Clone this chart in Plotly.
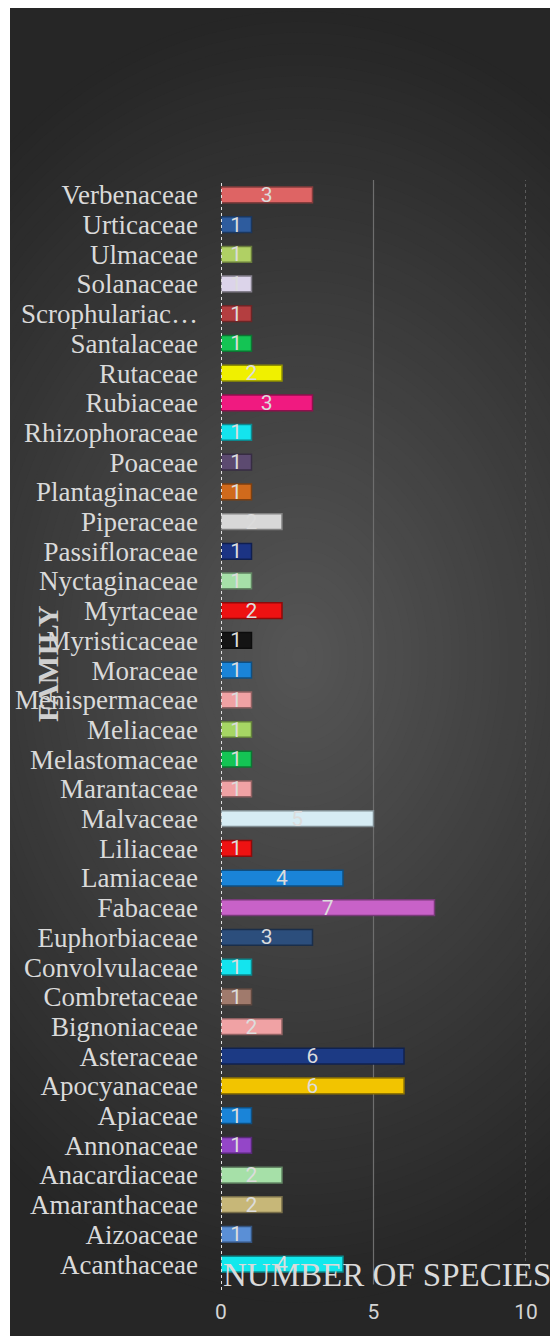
import plotly.graph_objects as go
import math

families = ["Acanthaceae", "Aizoaceae", "Amaranthaceae", "Anacardiaceae", "Annonaceae",
            "Apiaceae", "Apocyanaceae", "Asteraceae", "Bignoniaceae", "Combretaceae",
            "Convolvulaceae", "Euphorbiaceae", "Fabaceae", "Lamiaceae", "Liliaceae",
            "Malvaceae", "Marantaceae", "Melastomaceae", "Meliaceae", "Menispermaceae",
            "Moraceae", "Myristicaceae", "Myrtaceae", "Nyctaginaceae", "Passifloraceae",
            "Piperaceae", "Plantaginaceae", "Poaceae", "Rhizophoraceae", "Rubiaceae",
            "Rutaceae", "Santalaceae", "Scrophulariaceae", "Solanaceae", "Ulmaceae",
            "Urticaceae", "Verbenaceae"]
species = [4, 1, 2, 2, 1, 1, 6, 6, 2, 1, 1, 3, 7, 4, 1, 5, 1, 1, 1, 1, 1, 1, 2, 1, 1,
           2, 1, 1, 1, 3, 2, 1, 1, 1, 1, 1, 3]
tick_labels = [f if f != "Scrophulariaceae" else "Scrophulariac…" for f in families]
bar_colors = ["#12e8ec", "#5a8fd6", "#c7b778", "#a6e0a8", "#9446c8",
              "#1a84d8", "#f2c400", "#1c3a84", "#f0a2a4", "#a07a6c",
              "#14e4ee", "#2c4e7c", "#c862c8", "#1a84d8", "#ee1212",
              "#d6ecf4", "#f0a2a4", "#14c454", "#a6d664", "#f0a2a4",
              "#1a84d8", "#141414", "#ee1212", "#a6e0a8", "#1c3484",
              "#d8d8d8", "#d06a1c", "#5c4a70", "#14e4ee", "#f01a80",
              "#f0f000", "#14c454", "#b43e40", "#dcd4ea", "#b0d064",
              "#2e5c9e", "#de6464"]
x_ticks = [0, 5, 10]


def darker(hexc, f=0.6):
    r, g, b = int(hexc[1:3], 16), int(hexc[3:5], 16), int(hexc[5:7], 16)
    return "rgb(%d,%d,%d)" % (r * f, g * f, b * f)


fig = go.Figure()
fig.add_trace(go.Bar(
    y=families, x=species, orientation="h",
    marker=dict(color=bar_colors, line=dict(color=[darker(c) for c in bar_colors], width=1.5)),
    width=0.53,
    text=species, textposition="inside", insidetextanchor="middle", textangle=0,
    constraintext="none",
    textfont=dict(family="Roboto", size=21, color="#dcdcdc"),
    hoverinfo="skip",
))

# pixel -> paper conversion for the decorative background
L, R, T, B = 221, 24, 180, 50
PW, PH = 550 - L - R, 1336 - T - B


def px(x):
    return (x - L) / PW


def py(y):
    return (1336 - B - y) / PH


shapes = []
shapes.append(dict(type="rect", xref="paper", yref="paper",
                   x0=px(10), x1=px(600), y0=py(1400), y1=py(7),
                   fillcolor="rgb(38,38,38)", line=dict(width=0), layer="below"))
cx, cy, rx, ry = 300, 660, 480, 650
n = 60
for k in range(n, 0, -1):
    s = k / n
    v = int(round(38 + 48 * (1 - s)))
    shapes.append(dict(type="circle", xref="paper", yref="paper",
                       x0=px(cx - rx * s), x1=px(cx + rx * s),
                       y0=py(cy + ry * s), y1=py(cy - ry * s),
                       fillcolor="rgb(%d,%d,%d)" % (v, v, v), line=dict(width=0),
                       layer="below"))
# mask outside the chart box (white page margin)
shapes.append(dict(type="rect", xref="paper", yref="paper",
                   x0=px(-50), x1=px(10), y0=py(1400), y1=py(-50),
                   fillcolor="white", line=dict(width=0), layer="below"))
shapes.append(dict(type="rect", xref="paper", yref="paper",
                   x0=px(-50), x1=px(600), y0=py(7), y1=py(-50),
                   fillcolor="white", line=dict(width=0), layer="below"))
# gridlines
for xv in x_ticks:
    if xv == 0:
        shapes.append(dict(type="line", xref="x", yref="paper", x0=xv, x1=xv, y0=-0.01, y1=1,
                           line=dict(color="#e0e0e0", width=2, dash="dot"), layer="above"))
    elif xv == 10:
        shapes.append(dict(type="line", xref="x", yref="paper", x0=xv, x1=xv, y0=0, y1=1,
                           line=dict(color="#8a8a8a", width=1, dash="dot"), layer="below"))
    else:
        shapes.append(dict(type="line", xref="x", yref="paper", x0=xv, x1=xv, y0=-0.005, y1=1,
                           line=dict(color="#6e6e6e", width=1.2), layer="below"))

fig.update_layout(
    width=550, height=1336,
    margin=dict(l=L, r=R, t=T, b=B),
    paper_bgcolor="white", plot_bgcolor="rgba(0,0,0,0)",
    showlegend=False,
    bargap=0.47,
    shapes=shapes,
    xaxis=dict(range=[0, 10], tickvals=x_ticks, showgrid=False, zeroline=False,
               showline=False, ticks="", ticklabelstandoff=18,
               tickfont=dict(family="Roboto", size=21, color="#d4d4d4")),
    yaxis=dict(type="category", tickvals=families, ticktext=tick_labels,
               showgrid=False, zeroline=False, showline=False, ticks="",
               ticklabelstandoff=22,
               tickfont=dict(family="Liberation Serif", size=27, color="#dadada"),
               range=[-0.5, len(families) - 0.5]),
    annotations=[
        dict(text="NUMBER OF SPECIES", xref="paper", yref="paper", x=px(387), y=py(1282),
             xanchor="center", yanchor="middle", showarrow=False,
             font=dict(family="Liberation Serif", size=33, color="#dadada")),
        dict(text="<b>FAMILY</b>", xref="paper", yref="paper", x=px(48), y=py(666),
             xanchor="center", yanchor="middle", showarrow=False, textangle=-90,
             font=dict(family="Liberation Serif", size=30, color="#d0d0d0")),
    ],
)

fig.write_html("out.html")
